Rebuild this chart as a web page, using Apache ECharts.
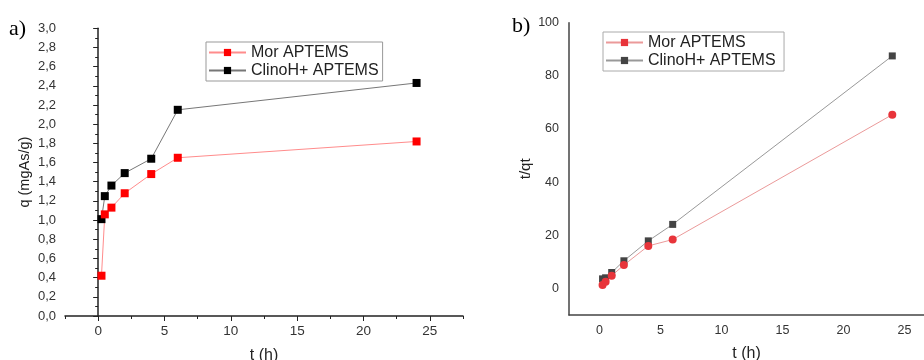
<!DOCTYPE html>
<html>
<head>
<meta charset="utf-8">
<script src="https://cdn.jsdelivr.net/npm/echarts@6/dist/echarts.min.js"></script>
<style>
html,body{margin:0;padding:0;background:#fff;}
#c{width:924px;height:360px;}
</style>
</head>
<body>
<div id="c"></div>
<script>
// ---- data ----
const tHours = [0.25, 0.5, 1, 2, 4, 6, 24];
const qMor = [0.42, 1.06, 1.13, 1.28, 1.48, 1.65, 1.82];
const qClino = [1.01, 1.25, 1.36, 1.49, 1.64, 2.15, 2.43];
const tqMor = [1.3, 2.5, 4.8, 8.8, 16.0, 18.4, 65.4];
const tqClino = [3.6, 4.0, 6.0, 10.4, 17.9, 24.1, 87.5];
const seriesNames = ['Mor APTEMS', 'ClinoH+ APTEMS'];
const xMajorTicks = [0, 5, 10, 15, 20, 25];

const pair = (xs, ys) => xs.map((x, i) => [x, ys[i]]);
const FONT = 'Liberation Sans, Arial, sans-serif';

const chart = echarts.init(document.getElementById('c'), null, {renderer: 'canvas'});

const axisText = {color: '#333', fontFamily: FONT};

const option = {
  animation: false,
  backgroundColor: '#fff',
  textStyle: {fontFamily: FONT},
  graphic: [
    {type: 'text', left: 9, top: 18, style: {text: 'a)', font: '22px "Liberation Serif", "Times New Roman", serif', fill: '#000'}},
    {type: 'text', left: 512, top: 15, style: {text: 'b)', font: '22px "Liberation Serif", "Times New Roman", serif', fill: '#000'}}
  ],
  legend: [
    {
      data: seriesNames.slice(),
      orient: 'vertical', left: 206, top: 42,
      padding: [2, 4, 2, 2], itemGap: 1,
      itemWidth: 37, itemHeight: 9,
      borderColor: '#999', borderWidth: 1, backgroundColor: '#fff',
      textStyle: {fontSize: 16, color: '#222', fontFamily: FONT, lineHeight: 17},
      selectedMode: false
    },
    {
      data: seriesNames.map(n => n + ' '),
      orient: 'vertical', left: 603, top: 32,
      padding: [2, 4, 2, 2], itemGap: 1,
      itemWidth: 37, itemHeight: 9,
      borderColor: '#aaa', borderWidth: 1, backgroundColor: '#fff',
      textStyle: {fontSize: 16, color: '#222', fontFamily: FONT, lineHeight: 17},
      selectedMode: false
    }
  ],
  grid: [
    {left: 65, top: 28.3, width: 398, height: 287.7, containLabel: false, outerBoundsMode: 'none'},
    {left: 569, top: 22.7, width: 355, height: 292.3, containLabel: false, outerBoundsMode: 'none'}
  ],
  xAxis: [
    {
      gridIndex: 0, type: 'value', min: -2.5, max: 27.5, interval: 2.5,
      name: 't (h)', nameLocation: 'middle', nameGap: 32,
      nameTextStyle: {fontSize: 16, color: '#222', fontFamily: FONT},
      axisLine: {lineStyle: {color: '#222', width: 1.5}},
      axisTick: {show: true, length: 3, lineStyle: {color: '#222'}},
      axisLabel: Object.assign({fontSize: 13.5, margin: 8, formatter: v => (Math.abs(v % 5) < 1e-9 ? String(v) : '')}, axisText),
      splitLine: {show: false}
    },
    {
      gridIndex: 0, type: 'value', min: -2.5, max: 27.5, position: 'bottom',
      axisLine: {show: false},
      axisTick: {show: true, length: 5, customValues: xMajorTicks, lineStyle: {color: '#222'}},
      axisLabel: {show: false},
      splitLine: {show: false}
    },
    {
      gridIndex: 1, type: 'value', min: -2.5, max: 26.6, interval: 2.5,
      name: 't (h)', nameLocation: 'middle', nameGap: 31,
      nameTextStyle: {fontSize: 16, color: '#222', fontFamily: FONT},
      axisLine: {onZero: false, lineStyle: {color: '#444', width: 1.5}},
      axisTick: {show: false},
      axisLabel: Object.assign({fontSize: 12.5, margin: 9, showMaxLabel: false, formatter: v => (Math.abs(v % 5) < 1e-9 ? String(v) : '')}, axisText),
      splitLine: {show: false}
    }
  ],
  yAxis: [
    {
      gridIndex: 0, type: 'value', min: 0, max: 3, interval: 0.2,
      name: 'q (mgAs/g)', nameLocation: 'middle', nameGap: 33,
      nameTextStyle: {fontSize: 14.5, color: '#222', fontFamily: FONT},
      axisLine: {show: true, lineStyle: {color: '#222', width: 1.5}},
      axisTick: {show: true, length: 5, lineStyle: {color: '#222'}},
      minorTick: {show: true, splitNumber: 2, length: 3, lineStyle: {color: '#222'}},
      axisLabel: Object.assign({fontSize: 13, margin: 9, formatter: v => v.toFixed(1).replace('.', ',')}, axisText),
      splitLine: {show: false}
    },
    {
      gridIndex: 1, type: 'value', min: -10, max: 100, interval: 10,
      name: 't/qt', nameLocation: 'middle', nameGap: 36,
      nameTextStyle: {fontSize: 15, color: '#222', fontFamily: FONT},
      axisLine: {show: true, onZero: false, lineStyle: {color: '#444', width: 1.5}},
      axisTick: {show: false},
      axisLabel: Object.assign({fontSize: 12.5, margin: 10, formatter: v => (Math.abs(v % 20) < 1e-9 && v >= 0 ? String(v) : '')}, axisText),
      splitLine: {show: false}
    }
  ],
  series: [
    {
      name: 'ClinoH+ APTEMS', type: 'line', xAxisIndex: 0, yAxisIndex: 0,
      data: pair(tHours, qClino),
      symbol: 'rect', symbolSize: 8,
      itemStyle: {color: '#000'},
      lineStyle: {color: '#777', width: 1}
    },
    {
      name: 'Mor APTEMS', type: 'line', xAxisIndex: 0, yAxisIndex: 0,
      data: pair(tHours, qMor),
      symbol: 'rect', symbolSize: 8,
      itemStyle: {color: '#ff0000'},
      lineStyle: {color: '#ff8c8c', width: 1}
    },
    {
      name: 'ClinoH+ APTEMS ', type: 'line', xAxisIndex: 2, yAxisIndex: 1,
      data: pair(tHours, tqClino),
      symbol: 'rect', symbolSize: 7,
      itemStyle: {color: '#444'},
      lineStyle: {color: '#999', width: 1}
    },
    {
      name: 'Mor APTEMS ', type: 'line', xAxisIndex: 2, yAxisIndex: 1,
      data: pair(tHours, tqMor).map(p => ({value: p, symbol: 'circle', symbolSize: 8})),
      symbol: 'rect', symbolSize: 8,
      itemStyle: {color: '#e8343a'},
      lineStyle: {color: '#eb9a9a', width: 1}
    }
  ]
};
chart.setOption(option);
</script>
</body>
</html>
